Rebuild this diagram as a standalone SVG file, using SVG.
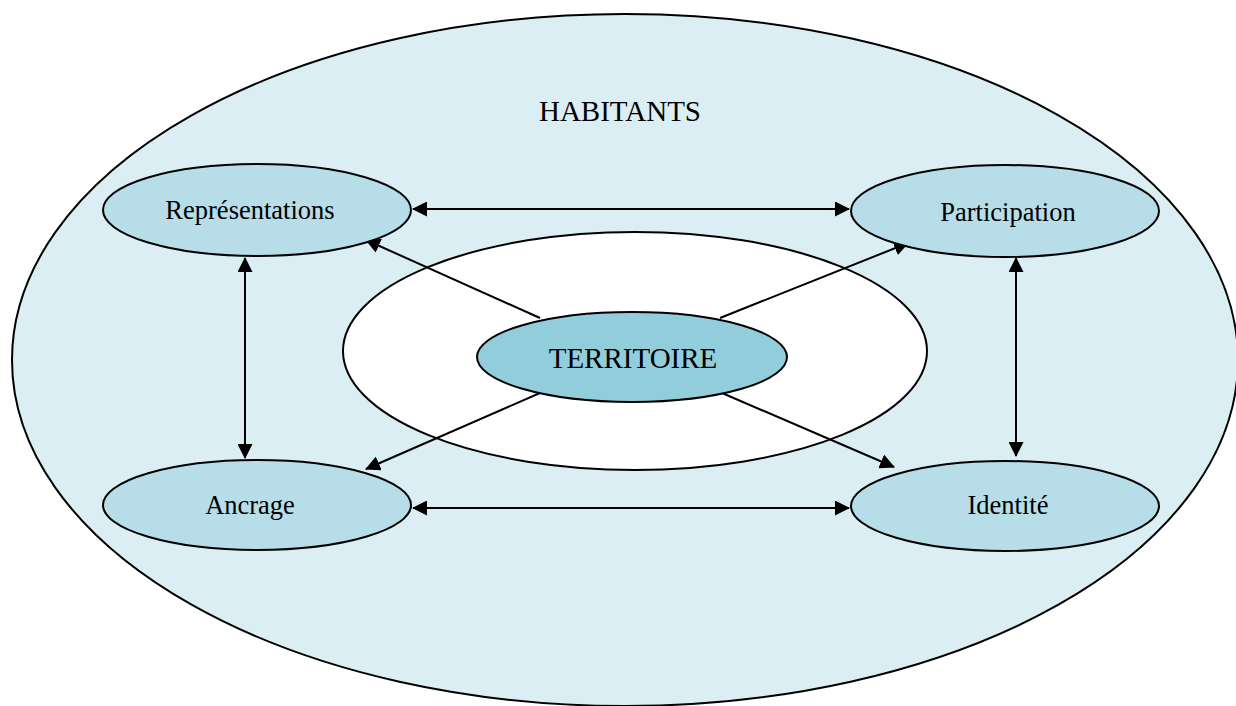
<svg xmlns="http://www.w3.org/2000/svg" width="1236" height="706" viewBox="0 0 1236 706">
<style>
.e{stroke:#000;stroke-width:2}
.n{fill:#B7DDE8}
.t{font-family:"Liberation Serif","Times New Roman",serif;fill:#000;text-anchor:middle}
.c{stroke:#000;stroke-width:2;fill:none}
</style>
<defs>
<marker id="ah" markerUnits="userSpaceOnUse" markerWidth="15" markerHeight="15" viewBox="0 0 15 15" refX="14" refY="7.5" orient="auto-start-reverse">
<path d="M0,0 L15,7.5 L0,15 Z" fill="#000"/>
</marker>
</defs>
<rect width="1236" height="706" fill="#fff"/>
<g id="habitants">
<ellipse class="e" cx="625" cy="360" rx="613" ry="346" fill="#DAEEF3"/>
<text class="t" x="620" y="121" font-size="29">HABITANTS</text>
</g>
<g id="zone">
<ellipse class="e" cx="635" cy="351" rx="292" ry="119" fill="#fff"/>
</g>
<g id="connectors">
<line class="c" x1="413" y1="209" x2="849" y2="209" marker-start="url(#ah)" marker-end="url(#ah)"/>
<line class="c" x1="413" y1="508" x2="849" y2="508" marker-start="url(#ah)" marker-end="url(#ah)"/>
<line class="c" x1="245" y1="258" x2="245" y2="458" marker-start="url(#ah)" marker-end="url(#ah)"/>
<line class="c" x1="1016" y1="258" x2="1016" y2="456" marker-start="url(#ah)" marker-end="url(#ah)"/>
<line class="c" x1="540" y1="318" x2="366" y2="240" marker-end="url(#ah)"/>
<line class="c" x1="720" y1="318" x2="908" y2="243" marker-end="url(#ah)"/>
<line class="c" x1="540" y1="393" x2="366" y2="469" marker-end="url(#ah)"/>
<line class="c" x1="722" y1="393" x2="894" y2="467" marker-end="url(#ah)"/>
</g>
<g id="territoire">
<ellipse class="e" cx="632" cy="357" rx="155" ry="45" fill="#92CDDC"/>
<text class="t" x="633" y="368" font-size="29">TERRITOIRE</text>
</g>
<g id="representations">
<ellipse class="e n" cx="257" cy="210" rx="154" ry="46"/>
<text class="t" x="250" y="219" font-size="26.5">Représentations</text>
</g>
<g id="participation">
<ellipse class="e n" cx="1005" cy="211" rx="154" ry="46"/>
<text class="t" x="1008" y="221" font-size="26.5">Participation</text>
</g>
<g id="ancrage">
<ellipse class="e n" cx="257" cy="505" rx="154" ry="45"/>
<text class="t" x="250" y="514" font-size="26.5">Ancrage</text>
</g>
<g id="identite">
<ellipse class="e n" cx="1005" cy="506" rx="154" ry="45"/>
<text class="t" x="1008" y="514" font-size="26.5">Identité</text>
</g>
</svg>
